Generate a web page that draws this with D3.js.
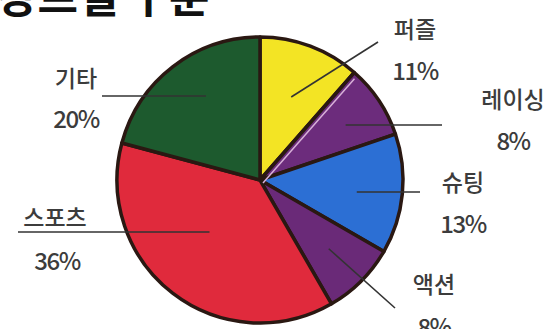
<!DOCTYPE html>
<html>
<head>
<meta charset="utf-8">
<script src="https://cdn.jsdelivr.net/npm/d3@7"></script>
<style>
  body { margin: 0; background: #fff; }
  text { font-family: "Noto Sans CJK KR", "Noto Sans", sans-serif; fill: #3c3c3c; font-weight: 500; }
  .title { font-weight: 700; fill: #111; }
  .name { font-size: 23px; }
  .pct { font-size: 24px; letter-spacing: -1.5px; }
</style>
</head>
<body>
<svg width="556" height="329"></svg>
<script>
const categories = ['퍼즐', '레이싱', '슈팅', '액션', '스포츠', '기타'];
const values = [11, 8, 13, 8, 36, 20];
const colors = ['#f3e424', '#6c2c7c', '#2c6fd4', '#6a2a78', '#e02a3c', '#1d5a2e'];

const svg = d3.select('svg');
const cx = 260, cy = 180, radius = 143;

svg.append('text')
    .attr('class', 'title')
    .attr('x', -3)
    .attr('y', 13)
    .attr('font-size', 44)
    .text('장르별 구분');

const pie = d3.pie().sort(null).value(d => d.value);
const arcs = pie(categories.map((c, i) => ({ name: c, value: values[i], color: colors[i] })));

const arc = d3.arc().innerRadius(0).outerRadius(radius);
const g = svg.append('g').attr('transform', `translate(${cx},${cy})`);

g.selectAll('path').data(arcs)
    .enter().append('path')
    .attr('d', arc)
    .attr('fill', d => d.data.color)
    .attr('stroke', '#2a1812')
    .attr('stroke-width', 3.5)
    .attr('stroke-linejoin', 'round');

// thin pale seam between puzzle and racing slices
g.append('line')
    .attr('x1', 0).attr('y1', 0)
    .attr('x2', Math.sin(arcs[1].startAngle) * radius * 0.97)
    .attr('y2', -Math.cos(arcs[1].startAngle) * radius * 0.97)
    .attr('stroke', '#d8b0d8')
    .attr('stroke-width', 1.5)
    .attr('transform', 'translate(3,3)');

// label layout: leader inner radius fraction, leader end, name and percent positions
const labels = [
    { r: 0.62, end: [378, 42], name: [415, 38], pct: [415, 80] },
    { r: 0.72, end: [442, 125], name: [513, 108], pct: [513, 150] },
    { r: 0.68, end: [420, 192], name: [463, 191], pct: [463, 233] },
    { r: 0.68, end: [395, 308], name: [434, 293], pct: [434, 336] },
    { r: 0.58, end: [18, 232], name: [55, 226], pct: [57, 270] },
    { r: 0.62, end: [102, 96], name: [76, 87], pct: [76, 128] }
];

arcs.forEach((d, i) => {
    const L = labels[i];
    const a = (d.startAngle + d.endAngle) / 2;
    const x1 = cx + Math.sin(a) * radius * L.r;
    let y1 = cy - Math.cos(a) * radius * L.r;
    const end = L.end;
    // horizontal leaders on the left and the right
    if (i === 1 || i === 2 || i === 4 || i === 5) y1 = end[1];
    svg.append('line')
        .attr('x1', x1).attr('y1', y1)
        .attr('x2', end[0]).attr('y2', end[1])
        .attr('stroke', '#333')
        .attr('stroke-width', 1.6);
    svg.append('text')
        .attr('class', 'name')
        .attr('x', L.name[0]).attr('y', L.name[1])
        .attr('text-anchor', 'middle')
        .text(d.data.name);
    svg.append('text')
        .attr('class', 'pct')
        .attr('x', L.pct[0]).attr('y', L.pct[1])
        .attr('text-anchor', 'middle')
        .text(d.data.value + '%');
});
</script>
</body>
</html>
